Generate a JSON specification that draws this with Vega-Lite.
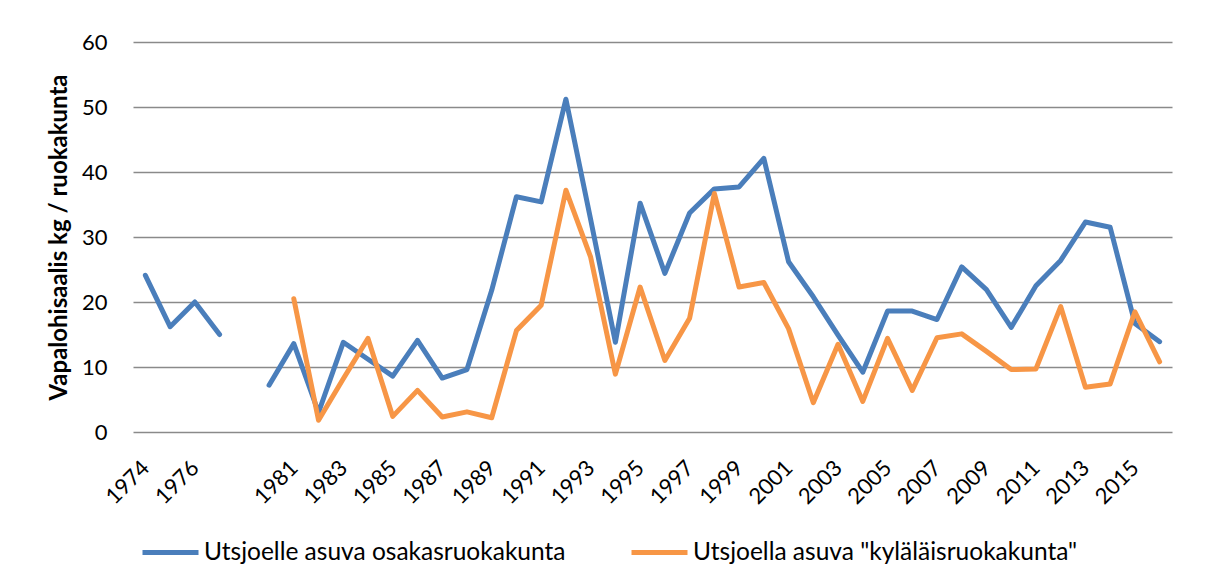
{
  "$schema": "https://vega.github.io/schema/vega-lite/v6.json",
  "width": 1039,
  "height": 390,
  "autosize": {"type": "none"},
  "padding": {"left": 133, "top": 42, "right": 34, "bottom": 152},
  "background": "white",
  "config": {
    "font": "Lato",
    "view": {"stroke": null},
    "axis": {"labelColor": "black", "titleColor": "black"}
  },
  "data": {
    "values": [
      {"year": "1974", "a": 24.1, "b": null},
      {"year": "1975", "a": 16.2, "b": null},
      {"year": "1976", "a": 20.0, "b": null},
      {"year": "1977", "a": 15.0, "b": null},
      {"year": "1978", "a": null, "b": null},
      {"year": "1980", "a": 7.2, "b": null},
      {"year": "1981", "a": 13.6, "b": 20.5},
      {"year": "1982", "a": 3.0, "b": 1.8},
      {"year": "1983", "a": 13.8, "b": 8.2},
      {"year": "1984", "a": 11.2, "b": 14.4},
      {"year": "1985", "a": 8.6, "b": 2.4},
      {"year": "1986", "a": 14.1, "b": 6.4},
      {"year": "1987", "a": 8.3, "b": 2.3},
      {"year": "1988", "a": 9.6, "b": 3.1},
      {"year": "1989", "a": 21.8, "b": 2.2},
      {"year": "1990", "a": 36.2, "b": 15.6},
      {"year": "1991", "a": 35.4, "b": 19.5},
      {"year": "1992", "a": 51.2, "b": 37.2},
      {"year": "1993", "a": 32.7, "b": 26.9},
      {"year": "1994", "a": 13.8, "b": 8.9},
      {"year": "1995", "a": 35.2, "b": 22.3},
      {"year": "1996", "a": 24.4, "b": 11.0},
      {"year": "1997", "a": 33.7, "b": 17.5},
      {"year": "1998", "a": 37.4, "b": 36.7},
      {"year": "1999", "a": 37.7, "b": 22.3},
      {"year": "2000", "a": 42.1, "b": 23.0},
      {"year": "2001", "a": 26.2, "b": 15.9},
      {"year": "2002", "a": 20.8, "b": 4.5},
      {"year": "2003", "a": 14.9, "b": 13.5},
      {"year": "2004", "a": 9.2, "b": 4.7},
      {"year": "2005", "a": 18.6, "b": 14.4},
      {"year": "2006", "a": 18.6, "b": 6.4},
      {"year": "2007", "a": 17.3, "b": 14.5},
      {"year": "2008", "a": 25.4, "b": 15.1},
      {"year": "2009", "a": 21.9, "b": 12.4},
      {"year": "2010", "a": 16.1, "b": 9.6},
      {"year": "2011", "a": 22.5, "b": 9.7},
      {"year": "2012", "a": 26.4, "b": 19.3},
      {"year": "2013", "a": 32.3, "b": 6.9},
      {"year": "2014", "a": 31.5, "b": 7.4},
      {"year": "2015", "a": 16.7, "b": 18.5},
      {"year": "2016", "a": 13.9, "b": 10.8}
    ]
  },
  "encoding": {
    "x": {
      "field": "year",
      "type": "ordinal",
      "scale": {
        "type": "point",
        "padding": 0.5,
        "domain": ["1974","1975","1976","1977","1978","1980","1981","1982","1983","1984","1985","1986","1987","1988","1989","1990","1991","1992","1993","1994","1995","1996","1997","1998","1999","2000","2001","2002","2003","2004","2005","2006","2007","2008","2009","2010","2011","2012","2013","2014","2015","2016"]
      },
      "axis": {
        "title": null,
        "values": ["1974","1976","1981","1983","1985","1987","1989","1991","1993","1995","1997","1999","2001","2003","2005","2007","2009","2011","2013","2015"],
        "labelAngle": -45,
        "labelAlign": "right",
        "labelBaseline": "middle",
        "labelFontSize": 22,
        "labelPadding": 32,
        "domain": false,
        "ticks": false,
        "grid": false
      }
    }
  },
  "layer": [
    {
      "mark": {"type": "line", "strokeWidth": 5, "strokeCap": "round", "strokeJoin": "round", "invalid": "break-paths-show-domains"},
      "encoding": {
        "y": {
          "field": "a",
          "type": "quantitative",
          "scale": {"domain": [0, 60], "nice": false},
          "axis": {
            "title": "Vapalohisaalis kg / ruokakunta",
            "titleFontSize": 24,
            "titleFontWeight": "bold",
            "titlePadding": 10,
            "values": [0, 10, 20, 30, 40, 50, 60],
            "labelFontSize": 22,
            "labelPadding": 26,
            "domain": false,
            "ticks": false,
            "gridColor": "#8a8a8a",
            "gridWidth": 1.5
          }
        },
        "color": {
          "datum": "Utsjoelle asuva osakasruokakunta",
          "scale": {
            "domain": ["Utsjoelle asuva osakasruokakunta", "Utsjoella asuva \"kyläläisruokakunta\""],
            "range": ["#4A7EBB", "#F79646"]
          },
          "legend": {
            "orient": "none",
            "legendX": 7,
            "legendY": 480,
            "direction": "horizontal",
            "title": null,
            "symbolType": "stroke",
            "symbolSize": 3136,
            "symbolStrokeWidth": 5,
            "labelFontSize": 24.5,
            "labelOffset": 3,
            "columnPadding": 55,
            "labelLimit": 600,
            "padding": 0
          }
        }
      }
    },
    {
      "mark": {"type": "line", "strokeWidth": 5, "strokeCap": "round", "strokeJoin": "round", "invalid": "break-paths-show-domains"},
      "encoding": {
        "y": {"field": "b", "type": "quantitative"},
        "color": {"datum": "Utsjoella asuva \"kyläläisruokakunta\""}
      }
    }
  ]
}
